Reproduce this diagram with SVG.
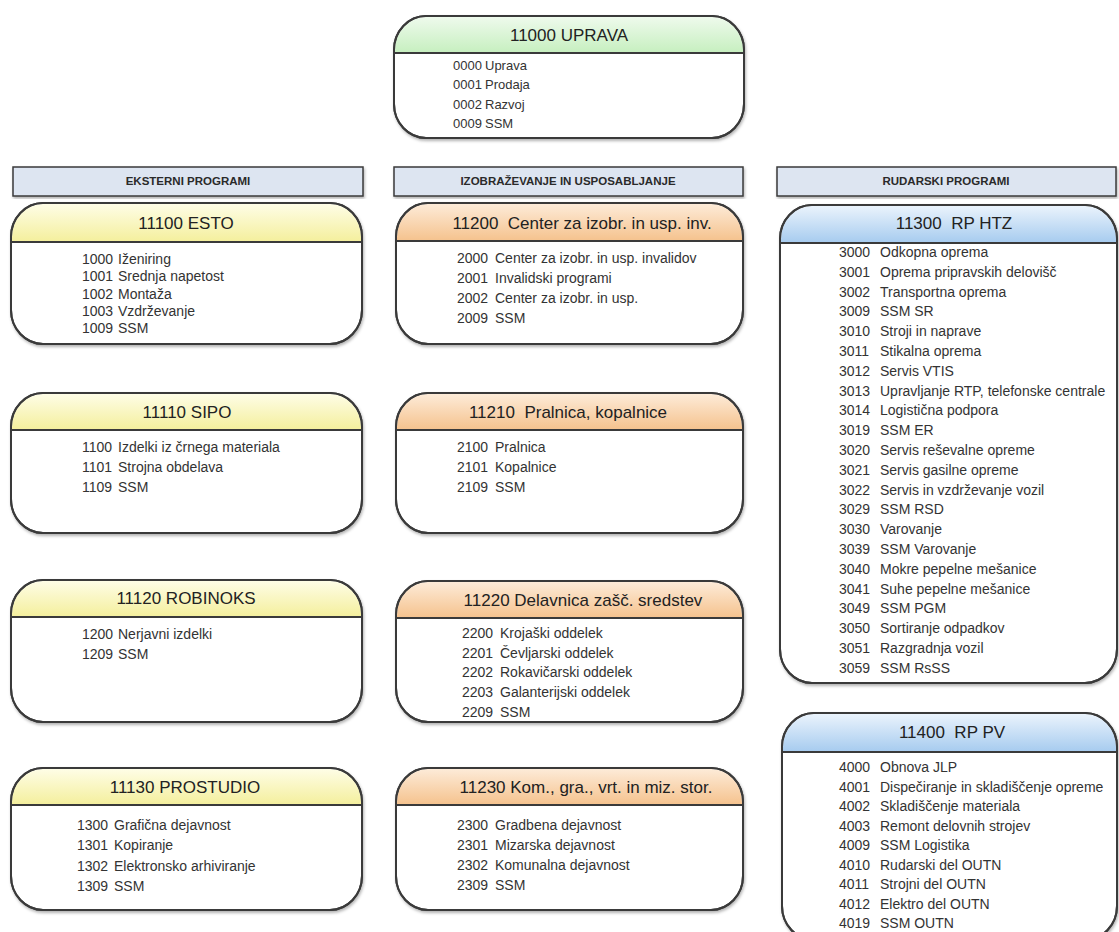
<svg xmlns="http://www.w3.org/2000/svg" width="1119" height="932" viewBox="0 0 1119 932">
<defs>
<linearGradient id="gGreen" x1="0" y1="0" x2="0" y2="1"><stop offset="0" stop-color="#eefaec"/><stop offset="1" stop-color="#c6efbf"/></linearGradient>
<linearGradient id="gYellow" x1="0" y1="0" x2="0" y2="1"><stop offset="0" stop-color="#fefde6"/><stop offset="1" stop-color="#f4ef9c"/></linearGradient>
<linearGradient id="gOrange" x1="0" y1="0" x2="0" y2="1"><stop offset="0" stop-color="#fdebd8"/><stop offset="1" stop-color="#f5c28d"/></linearGradient>
<linearGradient id="gBlue" x1="0" y1="0" x2="0" y2="1"><stop offset="0" stop-color="#eaf3fc"/><stop offset="1" stop-color="#a6cbef"/></linearGradient>
<filter id="sh" x="-5%" y="-5%" width="110%" height="115%"><feDropShadow dx="1" dy="2" stdDeviation="1.5" flood-color="#000" flood-opacity="0.3"/></filter>
</defs>
<style>
.box{fill:#fff;stroke:#3a3a3a;stroke-width:2;filter:url(#sh)}
.hdr{stroke:none}
.div{stroke:#3a3a3a;stroke-width:2}
.outl{fill:none;stroke:#3a3a3a;stroke-width:2}
.title{font-family:"Liberation Sans",Arial,sans-serif;font-size:17px;fill:#222;text-anchor:middle}
.item{font-family:"Liberation Sans",Arial,sans-serif;font-size:14px;fill:#333}
.small{font-size:13px}
.bar{fill:#dde5f1;stroke:#3a3a3a;stroke-width:1.5;filter:url(#sh)}
.bartxt{font-family:"Liberation Sans",Arial,sans-serif;font-size:11.5px;font-weight:bold;fill:#2a2a2a;text-anchor:middle}
</style>
<rect width="1119" height="932" fill="#ffffff"/>

<g id="connectors"></g>

<g id="hdr-eksterni"><rect class="bar" x="13" y="167" width="350" height="29"/><text class="bartxt" x="188" y="185">EKSTERNI PROGRAMI</text></g>
<g id="hdr-izobrazevanje"><rect class="bar" x="394" y="167" width="349" height="29"/><text class="bartxt" x="568" y="185">IZOBRAŽEVANJE IN USPOSABLJANJE</text></g>
<g id="hdr-rudarski"><rect class="bar" x="777" y="167" width="339" height="29"/><text class="bartxt" x="946" y="185">RUDARSKI PROGRAMI</text></g>

<g id="n11000">
<rect class="box" x="394" y="16" width="350" height="122" rx="32" ry="34"/>
<path class="hdr" fill="url(#gGreen)" d="M395,53 V50 A31,33 0 0 1 426,17 H712 A31,33 0 0 1 743,50 V53 Z"/>
<line class="div" x1="394" y1="53" x2="744" y2="53"/>
<rect class="outl" x="394" y="16" width="350" height="122" rx="32" ry="34"/>
<text class="title" x="569" y="41">11000 UPRAVA</text>
<g class="item small"><text x="453" y="70">0000<tspan x="485">Uprava</tspan></text><text x="453" y="89">0001<tspan x="485">Prodaja</tspan></text><text x="453" y="109">0002<tspan x="485">Razvoj</tspan></text><text x="453" y="128">0009<tspan x="485">SSM</tspan></text></g>
</g>

<g id="n11100">
<rect class="box" x="11" y="203" width="351" height="141" rx="32" ry="34"/>
<path class="hdr" fill="url(#gYellow)" d="M12,242 V237 A31,33 0 0 1 43,204 H330 A31,33 0 0 1 361,237 V242 Z"/>
<line class="div" x1="11" y1="242" x2="362" y2="242"/>
<rect class="outl" x="11" y="203" width="351" height="141" rx="32" ry="34"/>
<text class="title" x="186" y="229">11100 ESTO</text>
<g class="item"><text x="82" y="264">1000<tspan x="118">Iženiring</tspan></text><text x="82" y="281">1001<tspan x="118">Srednja napetost</tspan></text><text x="82" y="299">1002<tspan x="118">Montaža</tspan></text><text x="82" y="316">1003<tspan x="118">Vzdrževanje</tspan></text><text x="82" y="333">1009<tspan x="118">SSM</tspan></text></g>
</g>

<g id="n11110">
<rect class="box" x="11" y="393" width="351" height="140" rx="32" ry="34"/>
<path class="hdr" fill="url(#gYellow)" d="M12,430 V427 A31,33 0 0 1 43,394 H330 A31,33 0 0 1 361,427 V430 Z"/>
<line class="div" x1="11" y1="430" x2="362" y2="430"/>
<rect class="outl" x="11" y="393" width="351" height="140" rx="32" ry="34"/>
<text class="title" x="187" y="418">11110 SIPO</text>
<g class="item"><text x="82" y="452">1100<tspan x="118">Izdelki iz črnega materiala</tspan></text><text x="82" y="472">1101<tspan x="118">Strojna obdelava</tspan></text><text x="82" y="492">1109<tspan x="118">SSM</tspan></text></g>
</g>

<g id="n11120">
<rect class="box" x="11" y="580" width="351" height="142" rx="32" ry="34"/>
<path class="hdr" fill="url(#gYellow)" d="M12,617 V614 A31,33 0 0 1 43,581 H330 A31,33 0 0 1 361,614 V617 Z"/>
<line class="div" x1="11" y1="617" x2="362" y2="617"/>
<rect class="outl" x="11" y="580" width="351" height="142" rx="32" ry="34"/>
<text class="title" x="186" y="604">11120 ROBINOKS</text>
<g class="item"><text x="82" y="639">1200<tspan x="118">Nerjavni izdelki</tspan></text><text x="82" y="659">1209<tspan x="118">SSM</tspan></text></g>
</g>

<g id="n11130">
<rect class="box" x="11" y="768" width="351" height="142" rx="32" ry="34"/>
<path class="hdr" fill="url(#gYellow)" d="M12,805 V802 A31,33 0 0 1 43,769 H330 A31,33 0 0 1 361,802 V805 Z"/>
<line class="div" x1="11" y1="805" x2="362" y2="805"/>
<rect class="outl" x="11" y="768" width="351" height="142" rx="32" ry="34"/>
<text class="title" x="185" y="793">11130 PROSTUDIO</text>
<g class="item"><text x="77" y="830">1300<tspan x="114">Grafična dejavnost</tspan></text><text x="77" y="850">1301<tspan x="114">Kopiranje</tspan></text><text x="77" y="871">1302<tspan x="114">Elektronsko arhiviranje</tspan></text><text x="77" y="891">1309<tspan x="114">SSM</tspan></text></g>
</g>

<g id="n11200">
<rect class="box" x="396" y="203" width="347" height="141" rx="32" ry="34"/>
<path class="hdr" fill="url(#gOrange)" d="M397,241 V237 A31,33 0 0 1 428,204 H711 A31,33 0 0 1 742,237 V241 Z"/>
<line class="div" x1="396" y1="241" x2="743" y2="241"/>
<rect class="outl" x="396" y="203" width="347" height="141" rx="32" ry="34"/>
<text class="title" x="582" y="229">11200&#160; Center za izobr. in usp. inv.</text>
<g class="item"><text x="457" y="263">2000<tspan x="495">Center za izobr. in usp. invalidov</tspan></text><text x="457" y="283">2001<tspan x="495">Invalidski programi</tspan></text><text x="457" y="303">2002<tspan x="495">Center za izobr. in usp.</tspan></text><text x="457" y="323">2009<tspan x="495">SSM</tspan></text></g>
</g>

<g id="n11210">
<rect class="box" x="396" y="393" width="347" height="140" rx="32" ry="34"/>
<path class="hdr" fill="url(#gOrange)" d="M397,430 V427 A31,33 0 0 1 428,394 H711 A31,33 0 0 1 742,427 V430 Z"/>
<line class="div" x1="396" y1="430" x2="743" y2="430"/>
<rect class="outl" x="396" y="393" width="347" height="140" rx="32" ry="34"/>
<text class="title" x="568" y="418">11210&#160; Pralnica, kopalnice</text>
<g class="item"><text x="457" y="452">2100<tspan x="495">Pralnica</tspan></text><text x="457" y="472">2101<tspan x="495">Kopalnice</tspan></text><text x="457" y="492">2109<tspan x="495">SSM</tspan></text></g>
</g>

<g id="n11220">
<rect class="box" x="396" y="581" width="347" height="141" rx="32" ry="34"/>
<path class="hdr" fill="url(#gOrange)" d="M397,618 V615 A31,33 0 0 1 428,582 H711 A31,33 0 0 1 742,615 V618 Z"/>
<line class="div" x1="396" y1="618" x2="743" y2="618"/>
<rect class="outl" x="396" y="581" width="347" height="141" rx="32" ry="34"/>
<text class="title" x="583" y="606">11220 Delavnica zašč. sredstev</text>
<g class="item"><text x="462" y="638">2200<tspan x="500">Krojaški oddelek</tspan></text><text x="462" y="658">2201<tspan x="500">Čevljarski oddelek</tspan></text><text x="462" y="677">2202<tspan x="500">Rokavičarski oddelek</tspan></text><text x="462" y="697">2203<tspan x="500">Galanterijski oddelek</tspan></text><text x="462" y="717">2209<tspan x="500">SSM</tspan></text></g>
</g>

<g id="n11230">
<rect class="box" x="396" y="768" width="347" height="142" rx="32" ry="34"/>
<path class="hdr" fill="url(#gOrange)" d="M397,805 V802 A31,33 0 0 1 428,769 H711 A31,33 0 0 1 742,802 V805 Z"/>
<line class="div" x1="396" y1="805" x2="743" y2="805"/>
<rect class="outl" x="396" y="768" width="347" height="142" rx="32" ry="34"/>
<text class="title" x="586" y="793">11230 Kom., gra., vrt. in miz. stor.</text>
<g class="item"><text x="457" y="830">2300<tspan x="495">Gradbena dejavnost</tspan></text><text x="457" y="850">2301<tspan x="495">Mizarska dejavnost</tspan></text><text x="457" y="870">2302<tspan x="495">Komunalna dejavnost</tspan></text><text x="457" y="890">2309<tspan x="495">SSM</tspan></text></g>
</g>

<g id="n11300">
<rect class="box" x="780" y="205" width="337" height="478" rx="32" ry="34"/>
<path class="hdr" fill="url(#gBlue)" d="M781,243 V239 A31,33 0 0 1 812,206 H1085 A31,33 0 0 1 1116,239 V243 Z"/>
<line class="div" x1="780" y1="243" x2="1117" y2="243"/>
<rect class="outl" x="780" y="205" width="337" height="478" rx="32" ry="34"/>
<text class="title" x="954" y="229">11300&#160; RP HTZ</text>
<g class="item">
<text x="839" y="257">3000<tspan x="880">Odkopna oprema</tspan></text>
<text x="839" y="277">3001<tspan x="880">Oprema pripravskih delovišč</tspan></text>
<text x="839" y="297">3002<tspan x="880">Transportna oprema</tspan></text>
<text x="839" y="316">3009<tspan x="880">SSM SR</tspan></text>
<text x="839" y="336">3010<tspan x="880">Stroji in naprave</tspan></text>
<text x="839" y="356">3011<tspan x="880">Stikalna oprema</tspan></text>
<text x="839" y="376">3012<tspan x="880">Servis VTIS</tspan></text>
<text x="839" y="396">3013<tspan x="880">Upravljanje RTP, telefonske centrale</tspan></text>
<text x="839" y="415">3014<tspan x="880">Logistična podpora</tspan></text>
<text x="839" y="435">3019<tspan x="880">SSM ER</tspan></text>
<text x="839" y="455">3020<tspan x="880">Servis reševalne opreme</tspan></text>
<text x="839" y="475">3021<tspan x="880">Servis gasilne opreme</tspan></text>
<text x="839" y="495">3022<tspan x="880">Servis in vzdrževanje vozil</tspan></text>
<text x="839" y="514">3029<tspan x="880">SSM RSD</tspan></text>
<text x="839" y="534">3030<tspan x="880">Varovanje</tspan></text>
<text x="839" y="554">3039<tspan x="880">SSM Varovanje</tspan></text>
<text x="839" y="574">3040<tspan x="880">Mokre pepelne mešanice</tspan></text>
<text x="839" y="594">3041<tspan x="880">Suhe pepelne mešanice</tspan></text>
<text x="839" y="613">3049<tspan x="880">SSM PGM</tspan></text>
<text x="839" y="633">3050<tspan x="880">Sortiranje odpadkov</tspan></text>
<text x="839" y="653">3051<tspan x="880">Razgradnja vozil</tspan></text>
<text x="839" y="673">3059<tspan x="880">SSM RsSS</tspan></text>
</g>
</g>

<g id="n11400">
<rect class="box" x="782" y="713" width="335" height="227" rx="32" ry="34"/>
<path class="hdr" fill="url(#gBlue)" d="M783,752 V747 A31,33 0 0 1 814,714 H1085 A31,33 0 0 1 1116,747 V752 Z"/>
<line class="div" x1="782" y1="752" x2="1117" y2="752"/>
<rect class="outl" x="782" y="713" width="335" height="227" rx="32" ry="34"/>
<text class="title" x="952" y="738">11400&#160; RP PV</text>
<g class="item">
<text x="839" y="772">4000<tspan x="880">Obnova JLP</tspan></text>
<text x="839" y="792">4001<tspan x="880">Dispečiranje in skladiščenje opreme</tspan></text>
<text x="839" y="811">4002<tspan x="880">Skladiščenje materiala</tspan></text>
<text x="839" y="831">4003<tspan x="880">Remont delovnih strojev</tspan></text>
<text x="839" y="850">4009<tspan x="880">SSM Logistika</tspan></text>
<text x="839" y="870">4010<tspan x="880">Rudarski del OUTN</tspan></text>
<text x="839" y="889">4011<tspan x="880">Strojni del OUTN</tspan></text>
<text x="839" y="909">4012<tspan x="880">Elektro del OUTN</tspan></text>
<text x="839" y="928">4019<tspan x="880">SSM OUTN</tspan></text>
</g>
</g>
</svg>
